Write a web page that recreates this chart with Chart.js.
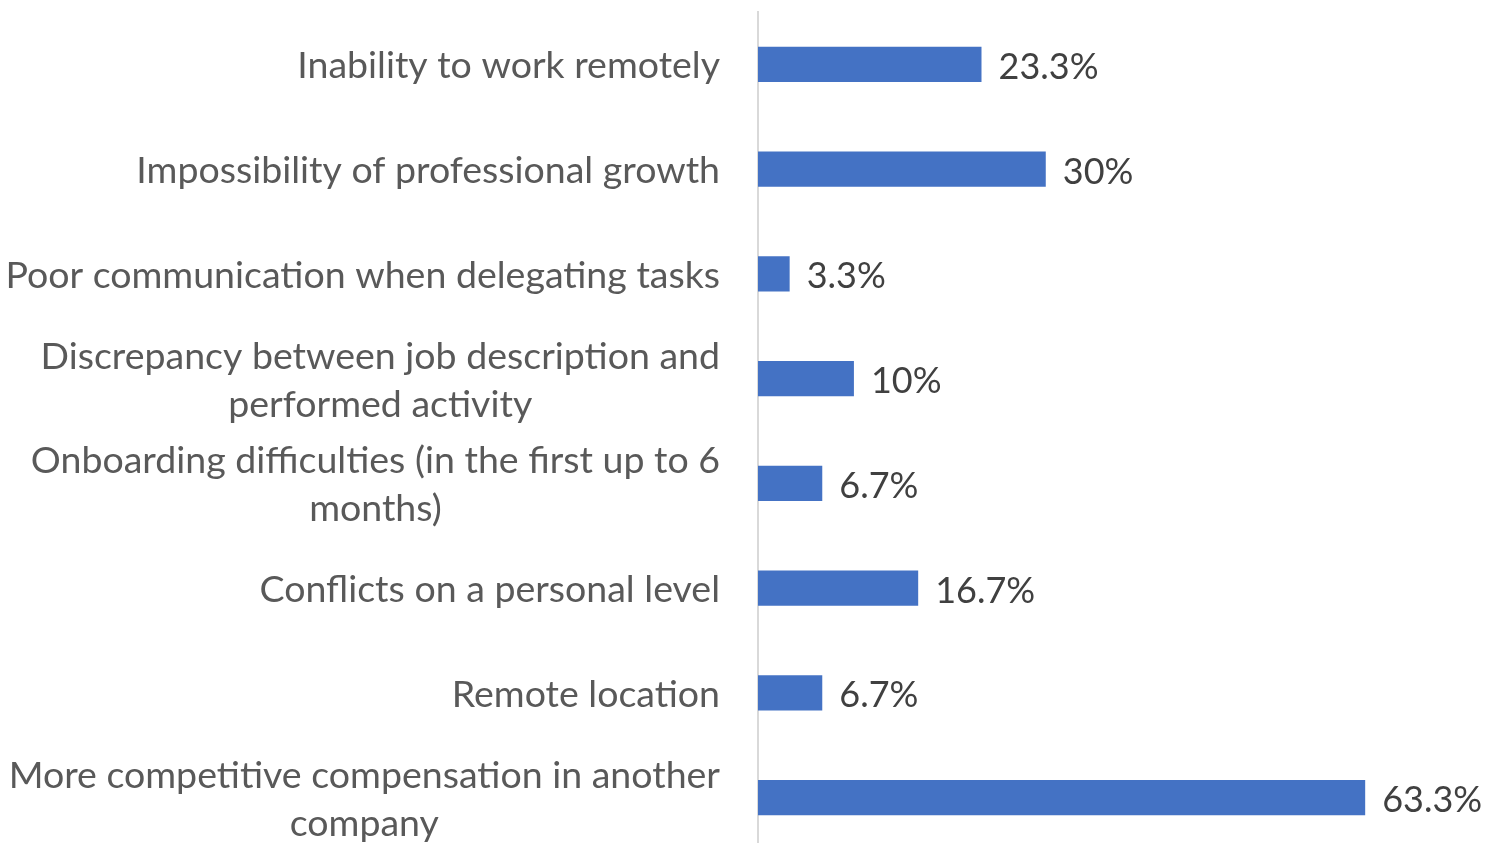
<!DOCTYPE html>
<html>
<head>
<meta charset="utf-8">
<script src="https://cdn.jsdelivr.net/npm/chart.js@4/dist/chart.umd.min.js"></script>
<style>
  html, body { margin: 0; padding: 0; background: #fff; overflow: hidden; }
  #wrap { position: relative; width: 1487px; height: 850px; }
</style>
</head>
<body>
<div id="wrap"><canvas id="chart"></canvas></div>
<script>
// Reasons for leaving, share of respondents (%)
const categories = [
  ["Inability to work remotely"],
  ["Impossibility of professional growth"],
  ["Poor communication when delegating tasks"],
  ["Discrepancy between job description and", "performed activity"],
  ["Onboarding difficulties (in the first up to 6", "months)"],
  ["Conflicts on a personal level"],
  ["Remote location"],
  ["More competitive compensation in another", "company"]
];
const values = [23.3, 30, 3.3, 10, 6.7, 16.7, 6.7, 63.3];
const valueLabels = ["23.3%", "30%", "3.3%", "10%", "6.7%", "16.7%", "6.7%", "63.3%"];

const FONT_FAMILY = "Lato, 'Open Sans', sans-serif";
const CATEGORY_FONT_SIZE = 37.5;
const VALUE_FONT_SIZE = 36;
const LINE_HEIGHT = 48;

// Category labels: block right-aligned against the axis, lines centred within the block
const categoryLabelPlugin = {
  id: 'categoryLabels',
  afterDraw(chart) {
    const ctx = chart.ctx;
    const yScale = chart.scales.y;
    const right = chart.chartArea.left - 38;
    ctx.save();
    ctx.font = CATEGORY_FONT_SIZE + 'px ' + FONT_FAMILY;
    ctx.fillStyle = '#595959';
    ctx.textBaseline = 'middle';
    ctx.textAlign = 'center';
    categories.forEach((lines, i) => {
      const cy = yScale.getPixelForTick(i) + 2;
      const blockW = Math.max(...lines.map(l => ctx.measureText(l).width));
      const cx = right - blockW / 2;
      const top = cy - (lines.length - 1) * LINE_HEIGHT / 2;
      lines.forEach((l, j) => ctx.fillText(l, cx, top + j * LINE_HEIGHT));
    });
    ctx.restore();
  }
};

// Value labels just past the end of each bar
const valueLabelPlugin = {
  id: 'valueLabels',
  afterDatasetsDraw(chart) {
    const ctx = chart.ctx;
    const meta = chart.getDatasetMeta(0);
    ctx.save();
    ctx.font = VALUE_FONT_SIZE + 'px ' + FONT_FAMILY;
    ctx.fillStyle = '#404040';
    ctx.textBaseline = 'middle';
    ctx.textAlign = 'left';
    meta.data.forEach((bar, i) => {
      ctx.fillText(valueLabels[i], bar.x + 17, bar.y + 3);
    });
    ctx.restore();
  }
};

new Chart(document.getElementById('chart'), {
  type: 'bar',
  data: {
    labels: categories,
    datasets: [{
      data: values,
      backgroundColor: '#4472C4',
      borderWidth: 0,
      categoryPercentage: 1,
      barPercentage: 0.335
    }]
  },
  options: {
    indexAxis: 'y',
    responsive: true,
    maintainAspectRatio: false,
    animation: false,
    layout: { padding: { top: 12, right: 0, bottom: 0, left: 0 } },
    plugins: { legend: { display: false }, tooltip: { enabled: false } },
    scales: {
      x: {
        display: false,
        min: 0,
        max: 76
      },
      y: {
        afterFit(scale) { scale.width = 758; },
        grid: { display: false },
        border: { display: true, color: '#d9d9d9', width: 2 },
        ticks: { display: false }
      }
    }
  },
  plugins: [categoryLabelPlugin, valueLabelPlugin]
});
</script>
</body>
</html>
